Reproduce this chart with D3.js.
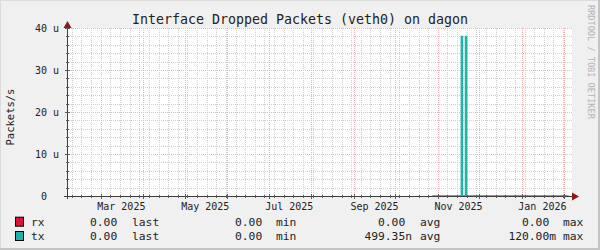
<!DOCTYPE html>
<html>
<head>
<meta charset="utf-8">
<script src="https://cdn.jsdelivr.net/npm/d3@7"></script>
<style>
  body { margin: 0; background: #f0f0f0; }
  svg { display: block; }
  text { font-family: "DejaVu Sans Mono", monospace; white-space: pre; }
</style>
</head>
<body>
<svg id="chart"></svg>
<script>
const title = "Interface Dropped Packets (veth0) on dagon";
const yTitle = "Packets/s";
const watermark = "RRDTOOL / TOBI OETIKER";

const timeRange = ["2025-02-04T12:00", "2026-02-06T12:00"];
const yTicks = [0, 10e-6, 20e-6, 30e-6, 40e-6];
const yTickLabels = ["0  ", "10 u", "20 u", "30 u", "40 u"];
const xLabelDates = ["2025-03-16", "2025-05-16", "2025-07-16", "2025-09-16", "2025-11-16", "2026-01-16"];
const xLabels = ["Mar 2025", "May 2025", "Jul 2025", "Sep 2025", "Nov 2025", "Jan 2026"];

// step points (value holds until the next date)
const rxDates = ["2025-10-28", "2026-02-04"];
const rxValues = [0, 0];
const txDates = ["2025-10-28", "2025-11-18", "2025-11-19", "2025-11-21", "2025-11-22", "2026-02-04"];
const txValues = [0, 38e-6, 0, 38e-6, 0, 0];

const seriesNames = ["rx", "tx"];
const seriesColors = ["#dc143c", "#20b2aa"];
const lastVals = ["0.00 ", "0.00 "];
const minVals = ["0.00 ", "0.00 "];
const avgVals = ["0.00 ", "499.35n"];
const maxVals = ["0.00 ", "120.00m"];
const statNames = ["last", "min", "avg", "max"];

const width = 600, height = 250;
const margin = { top: 28, right: 28, bottom: 54, left: 67 };
const parse = d3.isoParse;

const svg = d3.select("#chart")
    .attr("width", width)
    .attr("height", height);

// canvas + frame
svg.append("rect").attr("width", width).attr("height", height).attr("fill", "#f0f0f0");
svg.append("rect").attr("x", 0).attr("y", 0).attr("width", width).attr("height", 1).attr("fill", "#dcdcdc");
svg.append("rect").attr("x", 0).attr("y", 0).attr("width", 1).attr("height", height).attr("fill", "#dcdcdc");
svg.append("rect").attr("x", width - 2).attr("y", 0).attr("width", 2).attr("height", height).attr("fill", "#c4c4c4");
svg.append("rect").attr("x", 0).attr("y", height - 2).attr("width", width).attr("height", 2).attr("fill", "#c4c4c4");

const x = d3.scaleTime()
    .domain(timeRange.map(parse))
    .range([margin.left, width - margin.right]);
const y = d3.scaleLinear()
    .domain([0, 40e-6])
    .range([height - margin.bottom, margin.top]);

const x0 = margin.left, x1 = width - margin.right;
const y0 = height - margin.bottom, y1 = margin.top;

svg.append("rect")
    .attr("x", x0).attr("y", y1)
    .attr("width", x1 - x0).attr("height", y0 - y1)
    .attr("fill", "#ffffff");

// minor grid
const weeks = d3.timeSaturday.range(x.domain()[0], x.domain()[1]);
const months = d3.timeMonth.range(x.domain()[0], x.domain()[1]);
const minorY = d3.range(0, 41, 2).filter(v => v % 10 !== 0).map(v => v * 1e-6);

const grid = svg.append("g").attr("shape-rendering", "crispEdges");
grid.selectAll(".vminor").data(weeks).enter().append("line")
    .attr("x1", d => Math.round(x(d)) + 0.5).attr("x2", d => Math.round(x(d)) + 0.5)
    .attr("y1", y1).attr("y2", y0)
    .attr("stroke", "#cfcfcf").attr("stroke-dasharray", "1,1");
grid.selectAll(".hminor").data(minorY).enter().append("line")
    .attr("x1", x0).attr("x2", x1)
    .attr("y1", d => Math.round(y(d)) + 0.5).attr("y2", d => Math.round(y(d)) + 0.5)
    .attr("stroke", "#cfcfcf").attr("stroke-dasharray", "1,1");
// major grid
grid.selectAll(".vmajor").data(months).enter().append("line")
    .attr("x1", d => Math.round(x(d)) + 0.5).attr("x2", d => Math.round(x(d)) + 0.5)
    .attr("y1", y1).attr("y2", y0)
    .attr("stroke", "#f5b2b2").attr("stroke-dasharray", "1,1");
grid.selectAll(".hmajor").data(yTicks.slice(1)).enter().append("line")
    .attr("x1", x0).attr("x2", x1)
    .attr("y1", d => Math.round(y(d)) + 0.5).attr("y2", d => Math.round(y(d)) + 0.5)
    .attr("stroke", "#f5b2b2").attr("stroke-dasharray", "1,1");

// series
function toPoints(dates, values) {
    return dates.map((d, i) => ({ date: parse(d), value: values[i] }));
}
const series = [toPoints(rxDates, rxValues), toPoints(txDates, txValues)];

const area = d3.area()
    .curve(d3.curveStepAfter)
    .x(d => x(d.date))
    .y0(y(0))
    .y1(d => y(d.value));
const line = d3.line()
    .curve(d3.curveStepAfter)
    .x(d => x(d.date))
    .y(d => y(d.value));

series.forEach((pts, i) => {
    svg.append("path").datum(pts)
        .attr("d", area)
        .attr("fill", seriesColors[i]);
    svg.append("path").datum(pts)
        .attr("d", line)
        .attr("fill", "none")
        .attr("stroke", seriesColors[i])
        .attr("stroke-width", 1.25);
});

// axes
const axis = svg.append("g").attr("shape-rendering", "crispEdges");
axis.append("line")
    .attr("x1", x0 - 3).attr("x2", x1).attr("y1", y0 + 0.5).attr("y2", y0 + 0.5)
    .attr("stroke", "#3c3c3c");
axis.append("line")
    .attr("x1", x0 + 0.5).attr("x2", x0 + 0.5).attr("y1", y0 + 3).attr("y2", y1)
    .attr("stroke", "#3c3c3c");
axis.selectAll(".xt").data(weeks).enter().append("line")
    .attr("x1", d => Math.round(x(d)) + 0.5).attr("x2", d => Math.round(x(d)) + 0.5)
    .attr("y1", y0 - 1).attr("y2", y0 + 2)
    .attr("stroke", "#5a5a5a");
axis.selectAll(".xtm").data(months).enter().append("line")
    .attr("x1", d => Math.round(x(d)) + 0.5).attr("x2", d => Math.round(x(d)) + 0.5)
    .attr("y1", y0 - 2).attr("y2", y0 + 3)
    .attr("stroke", "#5a5a5a");
axis.selectAll(".yt").data(minorY).enter().append("line")
    .attr("x1", x0 - 1).attr("x2", x0 + 2)
    .attr("y1", d => Math.round(y(d)) + 0.5).attr("y2", d => Math.round(y(d)) + 0.5)
    .attr("stroke", "#5a5a5a");
axis.selectAll(".ytm").data(yTicks.slice(1)).enter().append("line")
    .attr("x1", x0 - 2).attr("x2", x0 + 3)
    .attr("y1", d => Math.round(y(d)) + 0.5).attr("y2", d => Math.round(y(d)) + 0.5)
    .attr("stroke", "#5a5a5a");

// arrows
svg.append("path")
    .attr("d", `M${x1},${y0 - 3.5}L${x1 + 7},${y0 + 0.5}L${x1},${y0 + 4.5}Z`)
    .attr("fill", "#8b1a1a");
svg.append("path")
    .attr("d", `M${x0 - 3.5},${y1}L${x0 + 0.5},${y1 - 7}L${x0 + 4.5},${y1}Z`)
    .attr("fill", "#8b1a1a");

// labels
svg.selectAll(".ylab").data(yTicks).enter().append("text")
    .attr("x", 59).attr("y", d => y(d))
    .attr("dy", "0.36em")
    .attr("text-anchor", "end")
    .style("font-size", "10px")
    .attr("fill", "#222")
    .text((d, i) => yTickLabels[i]);

svg.selectAll(".xlab").data(xLabelDates).enter().append("text")
    .attr("x", d => x(parse(d))).attr("y", 209.5)
    .attr("text-anchor", "middle")
    .style("font-size", "10px")
    .attr("fill", "#222")
    .text((d, i) => xLabels[i]);

svg.append("text")
    .attr("x", width / 2).attr("y", 24)
    .attr("text-anchor", "middle")
    .style("font-size", "13.3px")
    .attr("fill", "#222")
    .text(title);

svg.append("text")
    .attr("transform", "translate(14,117) rotate(-90)")
    .attr("text-anchor", "middle")
    .style("font-size", "10.5px")
    .attr("fill", "#222")
    .text(yTitle);

svg.append("text")
    .attr("transform", "translate(588,5) rotate(90)")
    .attr("text-anchor", "start")
    .style("font-size", "8.6px")
    .attr("fill", "#b4b4b4")
    .text(watermark);

// legend
const rowY = [221.7, 236];
const numEnd = [124, 269, 412, 556];
const statX = [132, 276, 420, 563];
const stats = [lastVals, minVals, avgVals, maxVals];

seriesNames.forEach((name, i) => {
    const g = svg.append("g");
    g.append("rect")
        .attr("x", 15.5).attr("y", rowY[i] - 4.5)
        .attr("width", 8).attr("height", 9)
        .attr("fill", seriesColors[i])
        .attr("stroke", "#000").attr("stroke-width", 1);
    g.append("text")
        .attr("x", 31).attr("y", rowY[i]).attr("dy", "0.36em")
        .style("font-size", "11.3px").attr("fill", "#222")
        .text(name);
    stats.forEach((vals, j) => {
        g.append("text")
            .attr("x", numEnd[j]).attr("y", rowY[i]).attr("dy", "0.36em")
            .attr("text-anchor", "end")
            .style("font-size", "11.3px").attr("fill", "#222")
            .text(vals[i]);
        g.append("text")
            .attr("x", statX[j]).attr("y", rowY[i]).attr("dy", "0.36em")
            .style("font-size", "11.3px").attr("fill", "#222")
            .text(statNames[j]);
    });
});
</script>
</body>
</html>
